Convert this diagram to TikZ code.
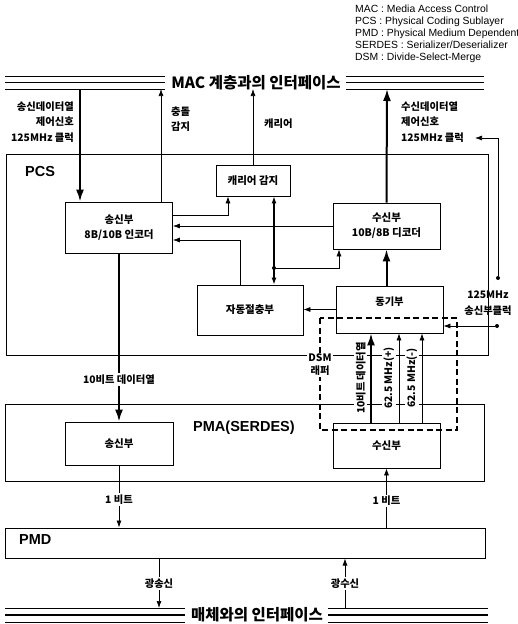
\documentclass[tikz,border=0pt]{standalone}
\usepackage{fontspec}
\setmainfont{Liberation Sans}
\newfontfamily\kr{Noto Sans CJK KR}
\usetikzlibrary{arrows.meta,calc}
\tikzset{
  >={Latex[length=7pt,width=5pt]},
  box/.style={draw,line width=0.8pt,inner sep=0pt,align=center,
    font=\kr\bfseries\fontsize{10.5}{15}\selectfont},
  lab/.style={fill=white,inner sep=1.5pt,font=\kr\bfseries\fontsize{10.3}{13}\selectfont},
  note/.style={inner sep=0pt,font=\kr\bfseries\fontsize{10.3}{15.5}\selectfont},
  blockname/.style={inner sep=0pt,font=\bfseries\fontsize{14.5}{16}\selectfont},
  bustxt/.style={inner sep=0pt,font=\kr\bfseries\fontsize{15.5}{17}\selectfont},
  sig/.style={->,line width=0.7pt},
  bigsig/.style={-{Latex[length=12pt,width=8pt]},line width=2pt},
  dualsig/.style={{Latex[length=7pt,width=5pt]}-{Latex[length=7pt,width=5pt]},line width=1.2pt},
  dsmbox/.style={line width=1.3pt,dash pattern=on 6pt off 3.5pt},
  joint/.style={circle,fill,inner sep=0pt,minimum size=4pt}
}
\begin{document}
\begin{tikzpicture}[x=1pt,y=-1pt]
  \useasboundingbox (0,0) rectangle (518,624);

  %--- legend ----------------------------------------------------------------
  \node[anchor=north west,align=left,inner sep=0pt,font=\fontsize{10.4}{12}\selectfont]
    (legend) at (355,5) {MAC : Media Access Control\\PCS : Physical Coding Sublayer\\
      PMD : Physical Medium Dependent\\SERDES : Serializer/Deserializer\\
      DSM : Divide-Select-Merge};

  %--- interface buses -------------------------------------------------------
  \node[bustxt] (mac) at (256,82.5) {MAC 계층과의 인터페이스};
  \node[bustxt] (med) at (257,615) {매체와의 인터페이스};
  \foreach \dy/\lw in {-6.5/0.7,0/1.5,6.5/0.9}{
    \draw[line width=\lw pt] ($(mac.west)+(-6,\dy)$) -- (5,{82.5+\dy});
    \draw[line width=\lw pt] ($(mac.east)+(5,\dy)$) -- (484,{82.5+\dy});
  }
  \foreach \dy/\lw in {-7/0.8,0/1.5,7/0.8}{
    \draw[line width=\lw pt] ($(med.west)+(-6,\dy)$) -- (5,{615+\dy});
    \draw[line width=\lw pt] ($(med.east)+(5,\dy)$) -- (488,{615+\dy});
  }
  \coordinate (txin)  at (80,89);
  \coordinate (col)   at (161,89);
  \coordinate (crsout) at (253,89);
  \coordinate (rxout) at (387,89);
  \coordinate (optx)  at (159,608);
  \coordinate (oprx)  at (345,608);

  %--- layers ----------------------------------------------------------------
  \node[box,line width=1pt,minimum width=482pt,minimum height=201pt] (pcs) at (247,254.5) {};
  \node[blockname,anchor=west] (pcslab) at (25,172) {PCS};
  \node[box,line width=1pt,minimum width=479pt,minimum height=77pt] (pma) at (244.5,442.5) {};
  \node[blockname] (pmalab) at (244,428) {PMA(SERDES)};
  \node[box,line width=1pt,minimum width=480pt,minimum height=30pt] (pmd) at (245,543) {};
  \node[blockname,anchor=west] (pmdlab) at (19,540) {PMD};

  %--- blocks ----------------------------------------------------------------
  \node[box,minimum width=107pt,minimum height=51pt] (txenc) at (119,227.5) {송신부\\8B/10B 인코더};
  \node[box,minimum width=74pt,minimum height=31pt] (crs) at (253,180.5) {캐리어 감지};
  \node[box,minimum width=107pt,minimum height=46pt] (rxdec) at (386.5,226) {수신부\\10B/8B 디코더};
  \node[box,minimum width=106pt,minimum height=50pt] (an) at (250,310) {자동절충부};
  \node[box,minimum width=107pt,minimum height=47pt] (sync) at (389.5,309.5) {};
  \node[note] (synclab) at (389.5,302) {동기부};
  \node[box,minimum width=108pt,minimum height=43pt] (pmatx) at (119,443.5) {송신부};
  \node[box,minimum width=107pt,minimum height=45pt] (pmarx) at (386.5,445.5) {수신부};

  %--- DSM wrapper -----------------------------------------------------------
  \draw[dsmbox] (320,318) rectangle (457,430);
  \node[lab,align=center,font=\kr\bfseries\fontsize{10.3}{13}\selectfont] (dsmlab) at (320,365) {DSM\\래퍼};

  %--- MAC side signals --------------------------------------------------------
  \node[note,anchor=east,align=right] (txlab) at (74,122) {송신데이터열\\제어신호\\125MHz 클럭};
  \node[note,anchor=west,align=left] (rxlab) at (401,122) {수신데이터열\\제어신호\\125MHz 클럭};
  \node[note,anchor=west,align=left] (collab) at (171,119) {충돌\\감지};
  \node[note,anchor=west] (crslab) at (264,124) {캐리어};

  \draw[bigsig] (txin) -- (txin |- txenc.north);
  \draw[sig] (col |- txenc.north) -- (col);
  \draw[sig] (crs.north) -- (crsout);
  \draw[bigsig] (rxdec.north) -- (rxout);

  %--- PCS internal ------------------------------------------------------------
  \draw[sig] ([yshift=12.5pt]txenc.east) -| ([xshift=-25pt]crs.south);
  \draw[sig] (rxdec.west) -- (rxdec.west -| txenc.east);
  \draw[sig] ([xshift=-10pt]an.north) |- ([yshift=-12.5pt]txenc.east);
  \draw[dualsig] ([xshift=21pt]crs.south) -- ([xshift=24pt]an.north);
  \node[joint] (tap) at (274,268) {};
  \draw[sig] (tap) -| ([xshift=-47.5pt]rxdec.south);
  \draw[bigsig] (sync.north -| rxdec.south) -- (rxdec.south);
  \draw[sig] (sync.west) -- (sync.west -| an.east);

  %--- clock -------------------------------------------------------------------
  \coordinate (clkin) at (475,138);
  \node[joint] (clkA) at (498,278) {};
  \node[joint] (clkB) at (497,326) {};
  \node[note,align=center] (clklab) at (488,303) {125MHz\\송신부클럭};
  \draw[sig] (clkA) |- (clkin);
  \draw[sig] (clkB) -- (clkB -| sync.east);

  %--- PCS <-> PMA ---------------------------------------------------------------
  \draw[bigsig] (txenc.south) -- node[lab,pos=0.75] {10비트 데이터열} (pmatx.north);
  \coordinate (d0) at (371,0);
  \coordinate (dp) at (399,0);
  \coordinate (dm) at (422,0);
  \draw[bigsig] (d0 |- pmarx.north) -- node[lab,sloped,above=3pt] {10비트 데이터열} (d0 |- sync.south);
  \draw[sig] (dp |- pmarx.north) -- node[lab,sloped,above=3pt] {62.5 MHz(+)} (dp |- sync.south);
  \draw[sig] (dm |- pmarx.north) -- node[lab,sloped,above=3pt] {62.5 MHz(-)} (dm |- sync.south);

  %--- PMA <-> PMD <-> medium ---------------------------------------------------------
  \draw[sig] (pmatx.south) -- node[lab,pos=0.55] {1 비트} (pmatx.south |- pmd.north);
  \draw[sig] (pmarx.south |- pmd.north) -- node[lab,pos=0.45] {1 비트} (pmarx.south);
  \draw[sig] (optx |- pmd.south) -- node[lab] {광송신} (optx);
  \draw[sig] (oprx) -- node[lab] {광수신} (oprx |- pmd.south);
\end{tikzpicture}
\end{document}
